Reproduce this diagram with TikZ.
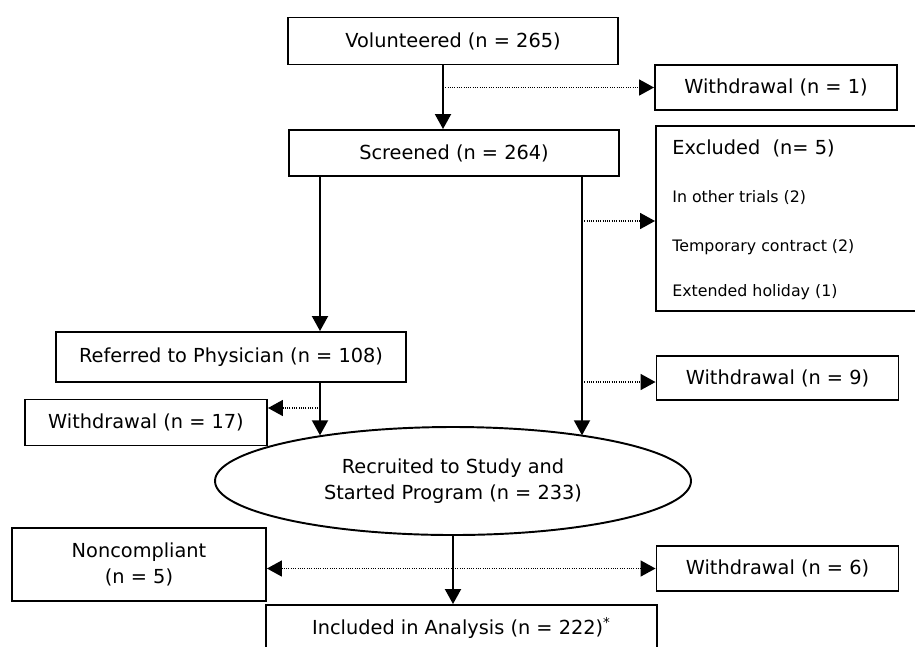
\documentclass[tikz,border=0pt]{standalone}
\usepackage{fontspec}
\setmainfont{DejaVu Sans}
\usetikzlibrary{arrows.meta,shapes.geometric}
\tikzset{
  flowtip/.tip={Triangle[length=3mm,width=3.2mm]},
  flowbox/.style={draw=black,fill=white,line width=1.1pt,align=center,inner sep=0pt,
    font=\fontsize{11}{15}\selectfont},
  notebox/.style={anchor=west,inner sep=0pt,font=\fontsize{9}{11}\selectfont},
  headbox/.style={notebox,font=\fontsize{11}{13}\selectfont},
  arrow/.style={-flowtip,line width=1.1pt,draw=black},
  dotarrow/.style={-flowtip,line width=0.95pt,draw=black,
    dash pattern=on 0.5pt off 0.8pt}
}

\begin{document}
\begin{tikzpicture}[
    b/.style={flowbox,minimum width=4.84cm,minimum height=0.92cm},
    w/.style={flowbox,minimum width=6.6cm,minimum height=0.94cm}
  ]
    \useasboundingbox (0,0) rectangle (18.3,-12.92);
    % main column
    \node[w] (vol) at (9.06,-0.82) {Volunteered (n = 265)};
    \node[w,minimum height=0.92cm] (scr) at (9.08,-3.06) {Screened (n = 264)};
    \node[flowbox,minimum width=7.0cm,minimum height=1.0cm] (ref) at (4.62,-7.14) {Referred to Physician (n = 108)};
    \node[flowbox,ellipse,minimum width=9.52cm,minimum height=2.16cm] (rec) at (9.06,-9.62)
      {Recruited to Study and\\Started Program (n = 233)};
    \node[flowbox,minimum width=7.82cm,minimum height=0.9cm] (incl) at (9.23,-12.55)
      {Included in Analysis (n = 222)\textsuperscript{*}};
    % side boxes
    \node[b,minimum height=0.9cm] (wd1) at (15.52,-1.75) {Withdrawal (n = 1)};
    \node[flowbox,minimum width=5.22cm,minimum height=3.7cm] (excl) at (15.73,-4.37) {};
    \node[headbox] (exh) at (13.44,-2.96) {Excluded\ \ (n= 5)};
    \node[notebox] (ex1) at (13.44,-3.96) {In other trials (2)};
    \node[notebox] (ex2) at (13.44,-4.94) {Temporary contract (2)};
    \node[notebox] (ex3) at (13.44,-5.84) {Extended holiday (1)};
    \node[b,minimum height=0.88cm] (wd9) at (15.55,-7.56) {Withdrawal (n = 9)};
    \node[b] (wd17) at (2.92,-8.45) {Withdrawal (n = 17)};
    \node[flowbox,minimum width=5.08cm,minimum height=1.46cm] (nonc) at (2.78,-11.29) {Noncompliant\\(n = 5)};
    \node[b,minimum height=0.9cm] (wd6) at (15.55,-11.37) {Withdrawal (n = 6)};
    % connector lanes
    \coordinate (ax) at (8.86,0);
    \coordinate (lx) at (6.4,0);
    \coordinate (rx) at (11.64,0);
    \coordinate (w17a) at (6.4,-8.16);
    \coordinate (w9a) at (11.64,-7.64);
    \coordinate (exa) at (11.64,-4.42);
    \draw[arrow] (vol.south -| ax) -- (scr.north -| ax);
    \draw[dotarrow] (ax |- wd1.west) -- (wd1.west);
    \draw[arrow] (scr.south -| lx) -- (ref.north -| lx);
    \draw[arrow] (ref.south -| lx) -- (rec.161 -| lx);
    \draw[dotarrow] (w17a) -- (w17a -| wd17.east);
    \draw[arrow] (scr.south -| rx) -- (rec.19 -| rx);
    \draw[dotarrow] (exa) -- (exa -| excl.west);
    \draw[dotarrow] (w9a) -- (w9a -| wd9.west);
    \draw[arrow] (rec.south) -- (incl.north -| rec.south);
    \draw[dotarrow,flowtip-flowtip] (nonc.east |- wd6.west) -- (wd6.west);
  \end{tikzpicture}
\end{document}
